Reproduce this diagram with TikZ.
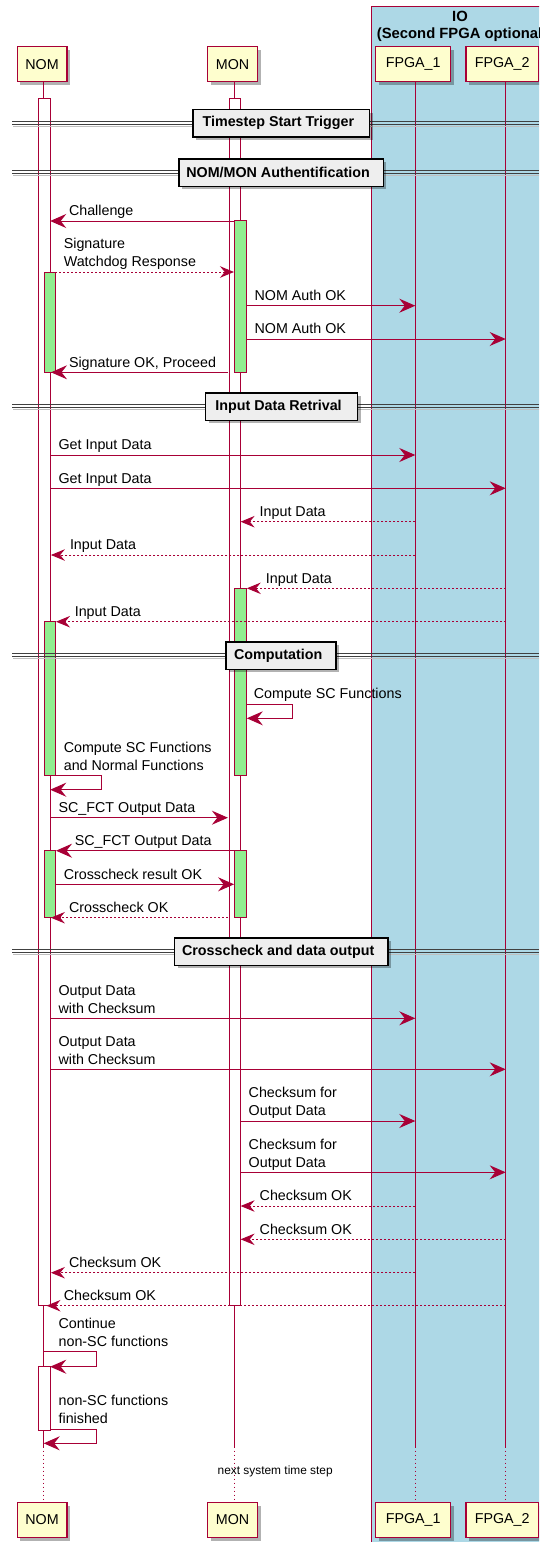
\documentclass[tikz,border=0pt]{standalone}
\usepackage{fontspec}
\setmainfont{Liberation Sans}
\usetikzlibrary{arrows.meta,shadows}
\definecolor{umlred}{HTML}{A80036}
\definecolor{partfill}{HTML}{FEFECE}
\definecolor{iofill}{HTML}{ADD8E6}
\definecolor{actgreen}{HTML}{90EE90}
\definecolor{divfill}{HTML}{EEEEEE}
\newcommand\msgsize{\fontsize{14.3}{18}\selectfont}
\newcommand\titlesize{\fontsize{14.8}{18}\selectfont}
\newcommand\notesize{\fontsize{11.9}{14}\selectfont}

\tikzset{
  msgline/.style={draw=umlred, line width=1pt, -{Stealth[length=16pt,width=14pt,inset=5.5pt]}},
  msgdot/.style={draw=umlred, line width=1pt, dash pattern=on 2pt off 2pt, -{Stealth[length=14pt,width=11.5pt,inset=4.8pt]}},
  mlbl/.style={anchor=south west, inner sep=0pt, align=left, font=\msgsize, text=black},
  part/.style={draw=umlred, fill=partfill, line width=1.3pt, minimum height=35pt, inner sep=0pt,
    font=\msgsize, drop shadow={shadow xshift=3pt, shadow yshift=-3pt, fill=black, opacity=0.3}},
  life/.style={draw=umlred, line width=1pt},
  lifedot/.style={draw=umlred, line width=1pt, dash pattern=on 1pt off 3pt},
  whitebar/.style={draw=umlred, fill=white, line width=1pt},
  greenbar/.style={draw=umlred, fill=actgreen, line width=1pt},
  divline/.style={draw=black!75, line width=1.1pt},
  divbox/.style={draw=black, fill=divfill, line width=1.5pt, minimum height=27.5pt, inner sep=0pt,
    font=\msgsize\bfseries, drop shadow={shadow xshift=3pt, shadow yshift=-3pt, fill=black, opacity=0.3}},
}

% straight message: name, style, from x, to x, y, label x, label text
\newcommand\msg[7]{%
  \coordinate (#1a) at (#3,#5);
  \coordinate (#1b) at (#4,#5);
  \draw[#2] (#1a) -- (#1b);
  \node[mlbl] (#1t) at (#6,#5+0.4) {#7\strut};
}
% message to self: name, start x, outer x, upper y, lower y, end x, label x, label text
\newcommand\selfmsg[8]{%
  \coordinate (#1a) at (#2,#4);
  \coordinate (#1b) at (#6,#5);
  \draw[msgline] (#1a) -- (#3,#4) -- (#3,#5) -- (#1b);
  \node[mlbl] (#1t) at (#7,#4+0.4) {#8\strut};
}
% activation bar: name, style, left x, right x, top y, bottom y
\newcommand\actbar[6]{%
  \path[#2] (#3,#5) rectangle (#4,#6);
  \coordinate (#1) at ({(#3+#4)/2},#5);
}
% separator: name, y, box left, box right, title
\newcommand\separator[5]{%
  \draw[black!25, line width=1pt] (13,#2+3.6) -- (539,#2+3.6);
  \draw[divline] (12,#2-1.4) -- (539,#2-1.4);
  \draw[divline] (12,#2+1.4) -- (539,#2+1.4);
  \node[divbox, minimum width=#4pt-#3pt] (#1) at ({(#3+#4)/2},#2+0.3) {\hspace*{-6pt}#5};
}

\begin{document}
\begin{tikzpicture}[x=1pt,y=-1pt]
\clip (0,0) rectangle (539,1542);
\fill[white] (0,0) rectangle (539,1542);

% IO group
\path[fill=iofill, draw=umlred, line width=1pt] (371.3,6) rectangle (550,1560);
\node[anchor=base, inner sep=0pt, font=\titlesize\bfseries] (iotitle) at (460,21) {IO};
\node[anchor=base, inner sep=0pt, font=\titlesize\bfseries] (iosub) at (462,38.3) {(Second FPGA optional)};

% participants
\node[part, minimum width=49.8pt] (nomT) at (42.1,64.2) {NOM};
\node[part, minimum width=49.9pt] (monT) at (232.6,64.2) {MON};
\node[part, minimum width=75pt]   (f1T)  at (413.2,64.2) {FPGA\_1};
\node[part, minimum width=72.3pt] (f2T)  at (502.2,64.2) {FPGA\_2};
\node[part, minimum width=49.8pt] (nomB) at (42.1,1520) {NOM};
\node[part, minimum width=49.9pt] (monB) at (232.6,1520) {MON};
\node[part, minimum width=75pt]   (f1B)  at (413.2,1520) {FPGA\_1};
\node[part, minimum width=72.3pt] (f2B)  at (502.2,1520) {FPGA\_2};

% lifelines
\coordinate (nomX) at (43.7,0);
\coordinate (monX) at (234.4,0);
\coordinate (f1X) at (415.3,0);
\coordinate (f2X) at (505.7,0);
\coordinate (solidEnd) at (0,1446.7);
\foreach \p/\x in {nom/nomX, mon/monX, f1/f1X, f2/f2X}{
  \draw[life] (\p T.south -| \x) -- (\x |- solidEnd);
  \draw[lifedot] (\x |- solidEnd) -- (\x |- \p B.north);
}

% activation bars
\actbar{nomA}{whitebar}{38.8}{50.2}{98.3}{1305.7}
\actbar{monA}{whitebar}{229.3}{240.3}{98.3}{1305.7}
\actbar{nomG1}{greenbar}{44.5}{55.2}{272}{372.3}
\actbar{monG1}{greenbar}{234.8}{246.1}{220.7}{372.7}
\actbar{monG2}{greenbar}{234.8}{246.1}{588.3}{775.7}
\actbar{nomG2}{greenbar}{44.5}{55.2}{621.7}{775.7}
\actbar{nomG3}{greenbar}{44.5}{55.2}{850.7}{917.7}
\actbar{monG3}{greenbar}{234.8}{246.1}{850.7}{917.7}
\actbar{nomA2}{whitebar}{38.8}{50.2}{1366.7}{1430}

% separators
\separator{sepStart}{123}{193.2}{369.5}{Timestep Start Trigger}
\separator{sepAuth}{172.2}{178.8}{383.3}{NOM/MON Authentification}
\separator{sepInput}{406.3}{205.6}{357.5}{Input Data Retrival}
\separator{sepComp}{655.2}{226.2}{336.2}{Computation}
\separator{sepCheck}{951.2}{174.6}{387.8}{Crosscheck and data output}

% authentication
\msg{m1}{msgline}{234.8}{50.2}{221}{68.8}{Challenge}
\msg{m2}{msgdot}{55.3}{234}{272}{63.6}{Signature\\Watchdog Response}
\msg{m3}{msgline}{246.1}{415.3}{305.7}{254.4}{NOM Auth OK}
\msg{m4}{msgline}{246.1}{505.7}{339}{254.4}{NOM Auth OK}
\msg{m5}{msgline}{228}{51}{372.3}{68.8}{Signature OK, Proceed}

% input data
\msg{m6}{msgline}{50.2}{415.3}{455}{58.4}{Get Input Data}
\msg{m7}{msgline}{50.2}{505.7}{488.3}{58.4}{Get Input Data}
\msg{m8}{msgdot}{415.3}{240.6}{521.7}{259.5}{Input Data}
\msg{m9}{msgdot}{415.3}{50.9}{555}{69.8}{Input Data}
\msg{m10}{msgdot}{505.7}{246.8}{588.3}{265.7}{Input Data}
\msg{m11}{msgdot}{505.7}{56}{621.7}{74.6}{Input Data}

% computation
\selfmsg{s1}{246.1}{292.2}{704}{718.3}{246.8}{253.7}{Compute SC Functions}
\selfmsg{s2}{55.3}{101.8}{775.7}{789.7}{50.2}{63.6}{Compute SC Functions\\and Normal Functions}
\msg{m12}{msgline}{50.2}{227.9}{817.7}{58.4}{SC\_FCT Output Data}
\msg{m13}{msgline}{234.8}{56}{850.7}{74.6}{SC\_FCT Output Data}
\msg{m14}{msgline}{55.3}{234.1}{884.3}{63.6}{Crosscheck result OK}
\msg{m15}{msgdot}{227.9}{50.9}{917.7}{68.8}{Crosscheck OK}

% output with checksums
\msg{m16}{msgline}{50.2}{415.3}{1018.3}{58.4}{Output Data\\with Checksum}
\msg{m17}{msgline}{50.2}{505.7}{1069.3}{58.4}{Output Data\\with Checksum}
\msg{m18}{msgline}{240.6}{415.3}{1121}{248.5}{Checksum for\\Output Data}
\msg{m19}{msgline}{240.6}{505.7}{1172.3}{248.5}{Checksum for\\Output Data}
\msg{m20}{msgdot}{415.3}{240.6}{1206}{259.5}{Checksum OK}
\msg{m21}{msgdot}{505.7}{240.6}{1239.3}{259.5}{Checksum OK}
\msg{m22}{msgdot}{415.3}{50.9}{1272.7}{68.8}{Checksum OK}
\msg{m23}{msgdot}{505.7}{46.5}{1305.7}{63.6}{Checksum OK}

% non-SC functions
\selfmsg{s3}{43.7}{96.3}{1351.7}{1366.7}{50.2}{58.4}{Continue\\non-SC functions}
\selfmsg{s4}{50.2}{96.3}{1429}{1443.3}{43.7}{58.4}{non-SC functions\\finished}

% delay note
\node[anchor=base, inner sep=0pt, font=\notesize] (delay) at (275.2,1474) {next system time step};
\end{tikzpicture}
\end{document}
